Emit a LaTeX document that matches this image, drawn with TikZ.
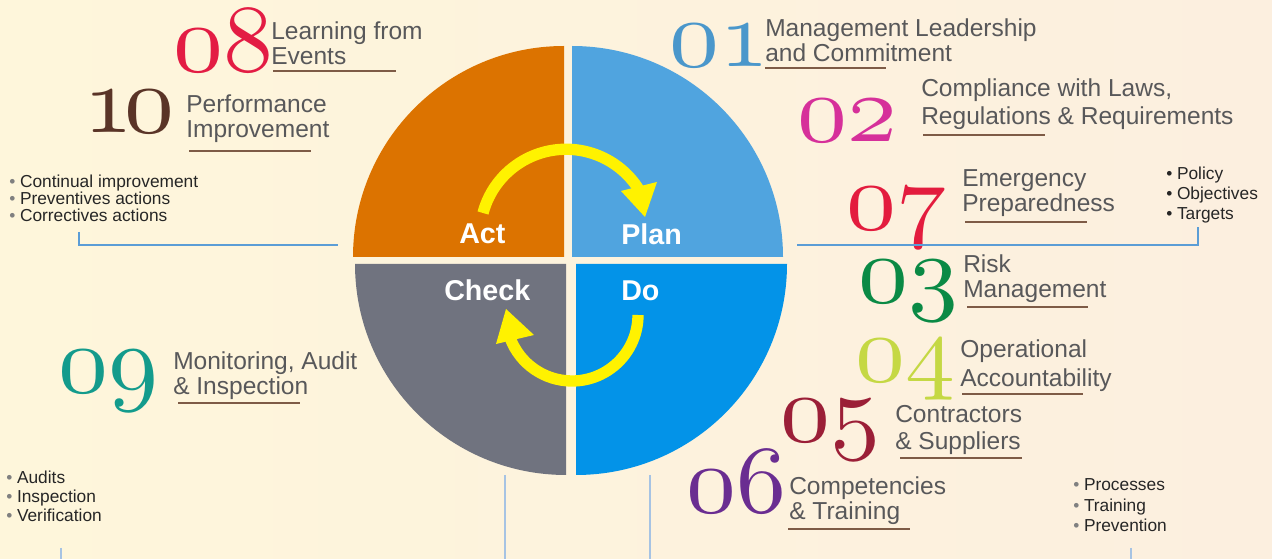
\documentclass[tikz,border=0pt]{standalone}
\usepackage{graphicx}
\usepackage{fontspec}
\setmainfont{Liberation Sans}

% palette
\definecolor{bgl}{HTML}{FEF6DB}
\definecolor{bgr}{HTML}{FCEFDF}
\definecolor{actc}{HTML}{DC7300}
\definecolor{planc}{HTML}{50A4DF}
\definecolor{checkc}{HTML}{70737F}
\definecolor{doc}{HTML}{0393E8}
\definecolor{cycyellow}{HTML}{FFF200}
\definecolor{labelgray}{HTML}{58585A}
\definecolor{ulbrown}{HTML}{7E5B46}
\definecolor{bultext}{HTML}{262626}
\definecolor{bulgray}{HTML}{808080}
\definecolor{linkblue}{HTML}{5B9DD6}
\definecolor{linklight}{HTML}{A6C3E3}
\definecolor{c01}{HTML}{4A97CB}
\definecolor{c02}{HTML}{D6309A}
\definecolor{c03}{HTML}{0A8A45}
\definecolor{c04}{HTML}{C5D844}
\definecolor{c05}{HTML}{9B1F37}
\definecolor{c06}{HTML}{6A2D91}
\definecolor{c07}{HTML}{E31C3E}
\definecolor{c08}{HTML}{E31C44}
\definecolor{c09}{HTML}{139B8C}
\definecolor{c10}{HTML}{5A3427}

% old-style figures for the big element numbers, slightly widened
\font\bignumfont=cmmi10 at 72pt
\newcommand\bignum[1]{\scalebox{1.04}[1]{\bignumfont #1}}
% bullets
\newcommand\gbul{{\color{bulgray}\textbullet}\hspace{3.5pt}}
\newcommand\dbul{\textbullet\hspace{3.5pt}}

% multi-line nodes below are anchored on the baseline of their last line
\tikzset{
  lbl/.style={anchor=base west, inner sep=0pt, align=left, text=labelgray,
              font=\fontsize{18.4}{18.75}\selectfont},
  num/.style={anchor=base west, inner sep=0pt},
  uline/.style={draw=ulbrown, line width=1.3pt},
  pdca/.style={anchor=base west, inner sep=0pt, text=white,
               font=\bfseries\fontsize{21.5}{21.5}\selectfont},
  blist/.style={anchor=base west, inner sep=0pt, align=left, text=bultext},
  link/.style={draw=linkblue, line width=1.5pt},
  linklt/.style={draw=linklight, line width=1.3pt},
  cyc/.style={draw=cycyellow, line width=8.5pt},
}

\begin{document}
\begin{tikzpicture}[x=0.75pt, y=-0.75pt]
\useasboundingbox (0,0) rectangle (1272,559);
\shade[left color=bgl, right color=bgr] (0,0) rectangle (1272,559);

% PDCA wheel
\fill[actc]   (564,257) -- (353,257) arc[start angle=180, end angle=270, radius=211] -- cycle;
\fill[planc]  (572,257) -- (572,46)  arc[start angle=270, end angle=360, radius=211] -- cycle;
\fill[checkc] (566,264) -- (566,475) arc[start angle=90,  end angle=180, radius=211] -- cycle;
\fill[doc]    (576,264) -- (787,264) arc[start angle=0,   end angle=90,  radius=211] -- cycle;

% cycle arrows
\draw[cyc] (483,213) arc[start angle=-165, end angle=-31, radius=86];
\fill[cycyellow] (645,217) -- (621,191) -- (657,182) -- cycle;
\draw[cyc] (638,315) arc[start angle=0, end angle=159, radius=66];
\fill[cycyellow] (506,309) -- (496,344) -- (534,335) -- cycle;

\node[pdca] (act)   at (459,244) {Act};
\node[pdca] (plan)  at (621,245) {Plan};
\node[pdca] (check) at (444,301) {Check};
\node[pdca] (do)    at (621,301) {Do};

% element numbers
\node[num, text=c08] (n08) at (173,72)  {\bignum{08}};
\node[num, text=c10] (n10) at (83,133)  {\bignum{1\kern-6pt0}};
\node[num, text=c01] (n01) at (669,67)  {\bignum{01}};
\node[num, text=c02] (n02) at (797,142) {\bignum{02}};
\node[num, text=c07] (n07) at (846,230) {\bignum{07}};
\node[num, text=c03] (n03) at (858,303) {\bignum{03}};
\node[num, text=c04] (n04) at (855,382) {\bignum{04}};
\node[num, text=c05] (n05) at (780,442) {\bignum{05}};
\node[num, text=c06] (n06) at (686,513) {\bignum{06}};
\node[num, text=c09] (n09) at (58,393)  {\bignum{09}};

% element titles
\node[lbl] (l08) at (271,65)  {Learning from\\Events};
\node[lbl] (l10) at (186,138) {Performance\\Improvement};
\node[lbl] (l01) at (765,62)  {Management Leadership\\and Commitment};
\node[lbl] (l02) at (921,125) {Compliance with Laws,\\[2.25pt]Regulations \& Requirements};
\node[lbl] (l07) at (962,212) {Emergency\\Preparedness};
\node[lbl] (l03) at (963,298) {Risk\\Management};
\node[lbl] (l04) at (960,387) {Operational\\[3pt]Accountability};
\node[lbl] (l05) at (895,450) {Contractors\\[1.5pt]\& Suppliers};
\node[lbl] (l06) at (789,520) {Competencies\\\& Training};
\node[lbl] (l09) at (173,395) {Monitoring, Audit\\\& Inspection};

% title underlines
\draw[uline] (273,71)  -- (396,71);
\draw[uline] (189,151) -- (311,151);
\draw[uline] (765,68)  -- (886,68);
\draw[uline] (923,135) -- (1045,135);
\draw[uline] (965,222) -- (1087,222);
\draw[uline] (967,307) -- (1088,307);
\draw[uline] (962,394) -- (1083,394);
\draw[uline] (900,458) -- (1022,458);
\draw[uline] (788,529) -- (910,529);
\draw[uline] (178,403) -- (300,403);

% bullet lists
\node[blist, font=\fontsize{13}{13.1}\selectfont] (lact) at (9,222)
  {\gbul Continual improvement\\\gbul Preventives actions\\\gbul Correctives actions};
\node[blist, font=\fontsize{13}{15}\selectfont] (lplan) at (1166,220)
  {\dbul Policy\\\dbul Objectives\\\dbul Targets};
\node[blist, font=\fontsize{13}{14.6}\selectfont] (lcheck) at (6,522)
  {\gbul Audits\\\gbul Inspection\\\gbul Verification};
\node[blist, font=\fontsize{13}{15.7}\selectfont] (ldo) at (1073,532)
  {\gbul Processes\\\gbul Training\\\gbul Prevention};

% connector brackets
\draw[link] (79,232) -- (79,245) -- (338,245);
\draw[link] (797,245) -- (1198,245) -- (1198,227);
\draw[linklt] (505,475) -- (505,559);
\draw[linklt] (650,475) -- (650,559);
\draw[linklt] (61,548) -- (61,559);
\draw[linklt] (1131,548) -- (1131,559);
\end{tikzpicture}
\end{document}
